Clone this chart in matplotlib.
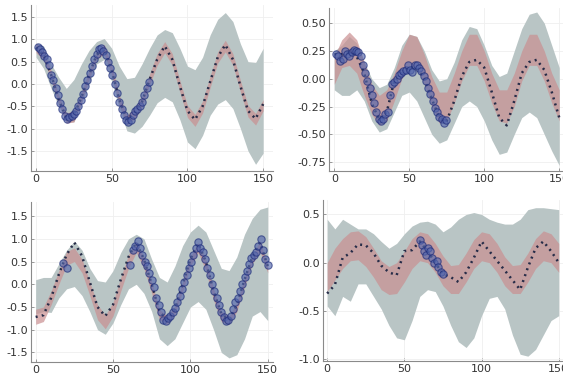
import numpy as np
import matplotlib.pyplot as plt

plt.rcParams["axes.unicode_minus"] = False

# shared x grid for bands and predicted mean
X = np.arange(0, 151, 5)

# ---- panel 1 (top left)
p1_gray_hi = [0.92, 0.85, 0.45, 0.15, -0.1, 0.1, 0.45, 0.75, 0.95, 1.02, 0.8, 0.4, 0.12, 0.15, 0.45, 0.8,
              1.1, 1.22, 1.15, 0.8, 0.4, 0.32, 0.6, 1.1, 1.45, 1.6, 1.4, 0.9, 0.5, 0.48, 0.8]
p1_gray_lo = [0.6, 0.35, -0.1, -0.5, -0.85, -0.85, -0.45, 0.0, 0.45, 0.55, 0.05, -0.55, -1.05, -1.1, -0.95, -0.7,
              -0.42, -0.3, -0.4, -0.8, -1.3, -1.45, -1.15, -0.7, -0.45, -0.35, -0.55, -1.0, -1.5, -1.8, -1.55]
p1_red_hi = [0.92, 0.75, 0.3, -0.25, -0.65, -0.6, -0.2, 0.3, 0.75, 0.88, 0.42, -0.25, -0.7, -0.55, -0.28, 0.22,
             0.68, 0.95, 0.68, 0.08, -0.48, -0.68, -0.38, 0.18, 0.72, 0.98, 0.68, 0.08, -0.48, -0.66, -0.35]
p1_red_lo = [0.7, 0.55, 0.1, -0.45, -0.88, -0.85, -0.42, 0.1, 0.55, 0.68, 0.2, -0.48, -0.92, -0.78, -0.52, -0.02,
             0.42, 0.7, 0.42, -0.18, -0.75, -0.95, -0.65, -0.08, 0.47, 0.72, 0.42, -0.18, -0.74, -0.92, -0.6]
p1_mean = [0.82, 0.65, 0.2, -0.35, -0.75, -0.7, -0.3, 0.2, 0.65, 0.78, 0.3, -0.35, -0.8, -0.65, -0.4, 0.1,
           0.55, 0.85, 0.55, -0.05, -0.6, -0.8, -0.5, 0.05, 0.6, 0.88, 0.55, -0.05, -0.6, -0.78, -0.45]
p1_obs_x = np.arange(1, 75.1, 1.5)
p1_obs_y = [0.82, 0.78, 0.72, 0.62, 0.55, 0.42, 0.2, 0.1, -0.1, -0.25, -0.42, -0.55, -0.72, -0.78, -0.75,
            -0.72, -0.68, -0.6, -0.5, -0.35, -0.22, -0.05, 0.1, 0.25, 0.4, 0.55, 0.68, 0.78, 0.8, 0.75,
            0.65, 0.5, 0.35, 0.2, 0.0, -0.2, -0.4, -0.55, -0.7, -0.8, -0.85, -0.8, -0.7, -0.6, -0.55,
            -0.5, -0.4, -0.25, -0.1, 0.05]

# ---- panel 2 (top right)
p2_gray_hi = [0.25, 0.3, 0.38, 0.32, 0.15, 0.0, -0.08, -0.05, 0.1, 0.3, 0.4, 0.38, 0.25, 0.08, -0.02, 0.0,
              0.15, 0.35, 0.47, 0.45, 0.3, 0.12, 0.02, 0.05, 0.25, 0.45, 0.58, 0.6, 0.5, 0.3, 0.1]
p2_gray_lo = [-0.1, -0.15, -0.15, -0.1, -0.2, -0.38, -0.48, -0.45, -0.3, -0.15, -0.12, -0.2, -0.35, -0.5,
              -0.58, -0.55, -0.4, -0.25, -0.2, -0.25, -0.38, -0.55, -0.68, -0.66, -0.5, -0.35, -0.3, -0.35,
              -0.5, -0.65, -0.78]
p2_red_hi = [0.2, 0.35, 0.42, 0.35, 0.15, -0.05, -0.15, -0.1, 0.05, 0.25, 0.4, 0.38, 0.22, 0.02, -0.12, -0.12,
             0.05, 0.25, 0.4, 0.4, 0.25, 0.05, -0.1, -0.1, 0.05, 0.25, 0.4, 0.4, 0.25, 0.05, -0.1]
p2_red_lo = [-0.05, 0.1, 0.12, 0.05, -0.15, -0.32, -0.42, -0.38, -0.2, 0.0, 0.12, 0.1, -0.05, -0.25, -0.4,
             -0.38, -0.22, -0.02, 0.12, 0.12, -0.02, -0.22, -0.38, -0.4, -0.25, -0.02, 0.12, 0.12, -0.02,
             -0.22, -0.38]
p2_mean = [0.22, 0.22, 0.24, 0.2, 0.05, -0.22, -0.37, -0.3, -0.02, 0.05, 0.1, 0.1, 0.0, -0.18, -0.35, -0.38,
           -0.2, 0.02, 0.15, 0.17, 0.1, -0.12, -0.35, -0.42, -0.2, 0.05, 0.15, 0.17, 0.08, -0.12, -0.35]
p2_obs_x = np.arange(1, 75.1, 1.5)
p2_obs_y = [0.22, 0.2, 0.16, 0.18, 0.25, 0.22, 0.2, 0.24, 0.26, 0.25, 0.24, 0.2, 0.12, 0.05, -0.02, -0.08,
            -0.15, -0.22, -0.3, -0.36, -0.38, -0.36, -0.32, -0.3, -0.15, -0.05, -0.03, 0.0, 0.03, 0.05,
            0.07, 0.08, 0.12, 0.08, 0.06, 0.12, 0.12, 0.1, 0.07, 0.02, -0.02, -0.08, -0.14, -0.2, -0.26,
            -0.3, -0.34, -0.36, -0.4, -0.37]

# ---- panel 3 (bottom left)
p3_gray_hi = [0.1, 0.15, 0.15, 0.45, 0.75, 0.95, 0.75, 0.35, 0.08, 0.05, 0.3, 0.7, 1.0, 1.1, 1.0, 0.55,
              0.15, 0.05, 0.4, 0.85, 1.15, 1.3, 1.15, 0.75, 0.35, 0.3, 0.6, 1.1, 1.45, 1.65, 1.7]
p3_gray_lo = [-0.65, -0.6, -0.62, -0.3, -0.1, -0.05, -0.25, -0.6, -1.0, -1.1, -0.85, -0.45, -0.1, 0.0, -0.2,
              -0.6, -1.2, -1.35, -1.2, -0.85, -0.5, -0.38, -0.55, -1.0, -1.5, -1.62, -1.55, -1.2, -0.7,
              -0.6, -0.8]
p3_red_hi = [-0.55, -0.5, -0.15, 0.3, 0.72, 0.8, 0.55, 0.05, -0.45, -0.68, -0.4, 0.15, 0.65, 0.95, 0.6, 0.05,
             -0.55, -0.7, -0.48, 0.05, 0.6, 0.92, 0.55, -0.1, -0.6, -0.7, -0.4, 0.15, 0.65, 0.95, 0.45]
p3_red_lo = [-0.88, -0.82, -0.45, 0.0, 0.42, 0.5, 0.25, -0.25, -0.78, -0.98, -0.7, -0.15, 0.35, 0.7, 0.35,
             -0.2, -0.78, -0.88, -0.65, -0.15, 0.4, 0.7, 0.3, -0.35, -0.82, -0.88, -0.6, -0.05, 0.45, 0.72,
             0.25]
p3_mean = [-0.72, -0.68, -0.3, 0.22, 0.65, 0.92, 0.62, 0.05, -0.5, -0.7, -0.45, 0.1, 0.6, 0.92, 0.55, 0.0,
           -0.6, -0.78, -0.55, 0.0, 0.55, 0.9, 0.5, -0.15, -0.65, -0.78, -0.45, 0.1, 0.6, 0.92, 0.4]
p3_obs_x = np.concatenate([[18, 20, 61], np.arange(63, 150.1, 1.5)])
p3_obs_y = [0.46, 0.36, 0.42,
            0.75, 0.85, 0.95, 0.8, 0.65, 0.5, 0.4, 0.25, 0.1, -0.05, -0.3, -0.45, -0.6, -0.78, -0.8,
            -0.75, -0.7, -0.62, -0.52, -0.4, -0.25, -0.1, 0.05, 0.2, 0.35, 0.5, 0.65, 0.8, 0.92, 0.8,
            0.7, 0.55, 0.35, 0.2, 0.0, -0.15, -0.3, -0.45, -0.6, -0.72, -0.8, -0.78, -0.7, -0.55, -0.4,
            -0.3, -0.15, 0.0, 0.15, 0.3, 0.45, 0.58, 0.65, 0.72, 0.85, 1.0, 0.75, 0.55, 0.42]

# ---- panel 4 (bottom right)
p4_gray_hi = [0.45, 0.35, 0.45, 0.4, 0.35, 0.35, 0.3, 0.22, 0.15, 0.2, 0.3, 0.38, 0.42, 0.43, 0.4, 0.32,
              0.37, 0.45, 0.5, 0.52, 0.5, 0.45, 0.42, 0.4, 0.4, 0.45, 0.55, 0.57, 0.57, 0.56, 0.55]
p4_gray_lo = [-0.45, -0.55, -0.35, -0.4, -0.22, -0.22, -0.35, -0.48, -0.65, -0.78, -0.8, -0.6, -0.35, -0.28,
              -0.3, -0.45, -0.65, -0.82, -0.88, -0.78, -0.55, -0.37, -0.35, -0.48, -0.75, -0.95, -0.97,
              -0.9, -0.75, -0.6, -0.55]
p4_red_hi = [0.0, 0.15, 0.25, 0.32, 0.33, 0.27, 0.15, 0.02, -0.04, 0.0, 0.12, 0.25, 0.32, 0.3, 0.2, 0.07,
             -0.03, -0.02, 0.1, 0.24, 0.32, 0.3, 0.2, 0.06, -0.03, -0.02, 0.1, 0.25, 0.33, 0.3, 0.2]
p4_red_lo = [-0.3, -0.18, -0.06, 0.02, 0.03, -0.04, -0.15, -0.28, -0.33, -0.32, -0.2, -0.06, 0.02, 0.0, -0.1,
             -0.24, -0.32, -0.32, -0.2, -0.06, 0.02, 0.0, -0.1, -0.24, -0.32, -0.32, -0.2, -0.06, 0.02, 0.0,
             -0.1]
p4_mean = [-0.32, -0.23, 0.05, 0.1, 0.19, 0.18, 0.1, -0.03, -0.1, -0.13, 0.12, 0.13, 0.22, 0.12, 0.0, -0.12,
           -0.15, -0.2, -0.1, 0.05, 0.22, 0.12, 0.02, -0.08, -0.18, -0.28, -0.05, 0.15, 0.22, 0.12, 0.0]
p4_obs_x = [60, 61.5, 63, 64, 65, 66.5, 68, 69.5, 71, 72, 73.5, 75]
p4_obs_y = [0.23, 0.18, 0.12, 0.08, 0.15, 0.12, 0.05, 0.0, 0.02, -0.05, -0.1, -0.12]

panels = [
    # data, yticks, fmt, xlim, ylim, axes rect in pixels (left, bottom_from_top, right, top_from_top)
    (p1_gray_lo, p1_gray_hi, p1_red_lo, p1_red_hi, p1_mean, p1_obs_x, p1_obs_y,
     [-1.5, -1.0, -0.5, 0.0, 0.5, 1.0, 1.5], "{:.1f}", (-3.3, 156.5), (-1.95, 1.77), (31, 171, 273, 5)),
    (p2_gray_lo, p2_gray_hi, p2_red_lo, p2_red_hi, p2_mean, p2_obs_x, p2_obs_y,
     [-0.75, -0.5, -0.25, 0.0, 0.25, 0.5], "{:.2f}", (-3.5, 156.5), (-0.83, 0.636), (329, 171, 569, 8)),
    (p3_gray_lo, p3_gray_hi, p3_red_lo, p3_red_hi, p3_mean, p3_obs_x, p3_obs_y,
     [-1.5, -1.0, -0.5, 0.0, 0.5, 1.0, 1.5], "{:.1f}", (-3.0, 153.4), (-1.71, 1.81), (31, 362, 273, 202)),
    (p4_gray_lo, p4_gray_hi, p4_red_lo, p4_red_hi, p4_mean, p4_obs_x, p4_obs_y,
     [-1.0, -0.5, 0.0, 0.5], "{:.1f}", (-2.7, 153.4), (-1.02, 0.65), (323, 361, 564, 200)),
]

W, H = 563, 374
fig = plt.figure(figsize=(W / 100, H / 100), dpi=100)

for g_lo, g_hi, r_lo, r_hi, mean, ox, oy, yt, fmt, xl, yl, rect in panels:
    l, b, r, t = rect
    ax = fig.add_axes([l / W, 1 - b / H, (r - l) / W, (b - t) / H])
    ax.fill_between(X, g_lo, g_hi, color="#b9c5c5", lw=0, zorder=1)
    ax.fill_between(X, r_lo, r_hi, color="#c98f91", alpha=0.7, lw=0, zorder=2)
    ax.plot(X, mean, color="#262c48", lw=1.8, ls=(0, (0.8, 1.7)), zorder=3)
    ax.scatter(ox, oy, s=28, facecolor="#5467ad", edgecolor="#1c2a78", alpha=0.65, lw=0.8, zorder=4)
    ax.set_xlim(*xl)
    ax.set_ylim(*yl)
    ax.set_xticks([0, 50, 100, 150])
    ax.set_yticks(yt)
    ax.set_yticklabels([fmt.format(v) for v in yt])
    ax.grid(True, color="#efefef", lw=0.6)
    ax.set_axisbelow(True)
    for s in ("top", "right"):
        ax.spines[s].set_visible(False)
    for s in ("left", "bottom"):
        ax.spines[s].set_color("#8a8a8a")
        ax.spines[s].set_linewidth(0.8)
    ax.tick_params(direction="in", length=2, width=0.6, color="#8a8a8a",
                   labelsize=8, labelcolor="#333333", pad=2)

fig.savefig("out.png", dpi=100)
